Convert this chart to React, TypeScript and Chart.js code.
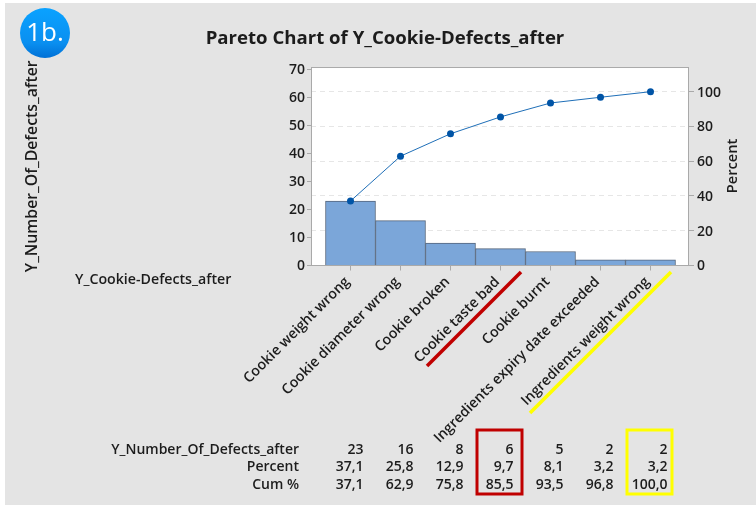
import React, { useEffect, useRef } from "react";
import { Chart, registerables } from "chart.js";

Chart.register(...registerables);

const categories = [
  "Cookie weight wrong",
  "Cookie diameter wrong",
  "Cookie broken",
  "Cookie taste bad",
  "Cookie burnt",
  "Ingredients expiry date exceeded",
  "Ingredients weight wrong",
];
const counts = [23, 16, 8, 6, 5, 2, 2];
const percentLabels = ["37,1", "25,8", "12,9", "9,7", "8,1", "3,2", "3,2"];
const cumLabels = ["37,1", "62,9", "75,8", "85,5", "93,5", "96,8", "100,0"];
const cumValues = [37.1, 62.9, 75.8, 85.5, 93.5, 96.8, 100];
const countTicks = [0, 10, 20, 30, 40, 50, 60, 70];
const percentTicks = [0, 20, 40, 60, 80, 100];

const FONT = '"Open Sans", "Noto Sans", sans-serif';
const INK = "#1c1c1c";
const AXIS = "#a9a9a9";

const overlay = {
  id: "overlay",
  beforeDraw(chart: any) {
    const { ctx, chartArea: a } = chart;
    ctx.save();
    ctx.fillStyle = "#ffffff";
    ctx.fillRect(0, 0, 756, 505);
    ctx.fillStyle = "#e4e4e4";
    ctx.fillRect(5, 3, 751, 502);
    ctx.fillStyle = "#ffffff";
    ctx.fillRect(a.left, a.top, a.right - a.left, a.bottom - a.top);
    ctx.restore();
  },
  afterDraw(chart: any) {
    const { ctx, chartArea: a, scales } = chart;
    ctx.save();
    ctx.strokeStyle = AXIS;
    ctx.lineWidth = 1;
    ctx.beginPath();
    ctx.moveTo(a.left, a.top + 0.5);
    ctx.lineTo(a.right, a.top + 0.5);
    ctx.stroke();

    ctx.fillStyle = INK;
    ctx.textBaseline = "middle";
    ctx.textAlign = "right";
    ctx.font = `600 14px ${FONT}`;
    const rows = [
      { y: 450, name: "Y_Number_Of_Defects_after", vals: counts.map(String) },
      { y: 467, name: "Percent", vals: percentLabels },
      { y: 485, name: "Cum %", vals: cumLabels },
    ];
    rows.forEach((r) => {
      ctx.fillText(r.name, 299, r.y);
      r.vals.forEach((v, i) => {
        const x = scales.x.getPixelForValue(i) + 13 + (i === 6 ? 4 : 0);
        ctx.fillText(v, x, r.y);
      });
    });

    ctx.textAlign = "left";
    ctx.font = `600 14.2px ${FONT}`;
    ctx.fillText("Y_Cookie-Defects_after", 75, 280);

    ctx.save();
    ctx.translate(733, 166);
    ctx.rotate(-Math.PI / 2);
    ctx.textAlign = "center";
    ctx.font = `600 14.7px ${FONT}`;
    ctx.fillText("Percent", 0, 0);
    ctx.restore();

    ctx.lineWidth = 3.5;
    ctx.strokeStyle = "#c00000";
    ctx.beginPath();
    ctx.moveTo(427, 366);
    ctx.lineTo(521, 272);
    ctx.stroke();
    ctx.strokeStyle = "#ffff00";
    ctx.beginPath();
    ctx.moveTo(530, 413);
    ctx.lineTo(671, 272);
    ctx.stroke();
    ctx.lineWidth = 3;
    ctx.strokeStyle = "#c00000";
    ctx.strokeRect(477, 430, 45, 64);
    ctx.strokeStyle = "#ffff00";
    ctx.strokeRect(627, 430, 45, 64);

    const g = ctx.createLinearGradient(0, 8, 0, 58);
    g.addColorStop(0, "#0aa2ff");
    g.addColorStop(0.7, "#0a8ff0");
    g.addColorStop(1, "#0070d6");
    ctx.fillStyle = g;
    ctx.beginPath();
    ctx.arc(45, 33, 25, 0, Math.PI * 2);
    ctx.fill();
    ctx.fillStyle = "#ffffff";
    ctx.textAlign = "center";
    ctx.font = `400 26px ${FONT}`;
    ctx.fillText("1b.", 45, 34);
    ctx.restore();
  },
};

export default function App() {
  const ref = useRef<HTMLCanvasElement>(null);
  useEffect(() => {
    document.body.style.margin = "0";
    const chart = new Chart(ref.current as HTMLCanvasElement, {
      type: "bar",
      data: {
        datasets: [
          {
            type: "line",
            data: cumValues.map((y, x) => ({ x, y })),
            yAxisID: "y1",
            xAxisID: "x",
            borderColor: "#1f6fb8",
            borderWidth: 1,
            pointRadius: 3.5,
            pointBackgroundColor: "#0054a6",
            pointBorderColor: "#0054a6",
            pointBorderWidth: 0,
            tension: 0,
            order: 1,
          },
          {
            type: "bar",
            data: counts.map((y, x) => ({ x, y })),
            yAxisID: "y",
            xAxisID: "x",
            backgroundColor: "#7ba6d9",
            borderColor: "#54657c",
            borderWidth: 1,
            barPercentage: 1,
            categoryPercentage: 1,
            order: 2,
          },
        ],
      } as any,
      plugins: [overlay],
      options: {
        responsive: false,
        animation: false,
        layout: { padding: { left: 14, right: 0, top: 0, bottom: 0 } },
        plugins: {
          legend: { display: false },
          tooltip: { enabled: false },
          title: {
            display: true,
            text: "Pareto Chart of Y_Cookie-Defects_after",
            color: INK,
            font: { family: FONT, size: 18.6, weight: "700" },
            padding: { top: 27.5, bottom: 17.2 },
          },
        },
        scales: {
          x: {
            type: "linear",
            offset: false,
            min: -0.79,
            max: 6.75,
            grid: { display: true, drawOnChartArea: false, drawTicks: true, tickLength: 5, tickColor: AXIS, offset: false } as any,
            border: { color: AXIS, width: 1 },
            afterBuildTicks(s: any) {
              s.ticks = categories.map((_, i) => ({ value: i }));
            },
            afterFit(s: any) {
              s.height = 239.5;
            },
            ticks: {
              autoSkip: false,
              minRotation: 45,
              maxRotation: 45,
              padding: 3,
              labelOffset: -3,
              color: INK,
              font: { family: FONT, size: 14.2, weight: "600" },
              callback: (v: any) => categories[v],
            },
          },
          y: {
            type: "linear",
            position: "left",
            min: 0,
            max: 70.8,
            grid: { display: true, drawOnChartArea: false, drawTicks: true, tickLength: 4, tickColor: AXIS },
            border: { color: AXIS, width: 1 },
            afterBuildTicks(s: any) {
              s.ticks = countTicks.map((value) => ({ value }));
            },
            afterFit(s: any) {
              s.width = 297;
            },
            title: {
              display: true,
              text: "Y_Number_Of_Defects_after",
              color: INK,
              font: { family: FONT, size: 15.8, weight: "600" },
              padding: { top: 9.5, bottom: 0 },
            },
            ticks: {
              padding: 2,
              labelOffset: 1,
              color: INK,
              font: { family: FONT, size: 14, weight: "600" },
            },
          },
          y1: {
            type: "linear",
            position: "right",
            min: 0,
            max: 114.2,
            border: { color: AXIS, width: 1, dash: [5, 4] },
            grid: {
              color: "#e6e6e6",
              drawTicks: true,
              tickLength: 6,
              tickColor: AXIS,
              tickBorderDash: [],
            } as any,
            afterBuildTicks(s: any) {
              s.ticks = percentTicks.map((value) => ({ value }));
            },
            afterFit(s: any) {
              s.width = 68;
            },
            ticks: {
              padding: 3,
              labelOffset: 1,
              color: INK,
              font: { family: FONT, size: 14, weight: "600" },
            },
          },
        },
      } as any,
    });
    return () => chart.destroy();
  }, []);
  return <canvas ref={ref} width={756} height={505} style={{ display: "block", width: 756, height: 505 }} />;
}
